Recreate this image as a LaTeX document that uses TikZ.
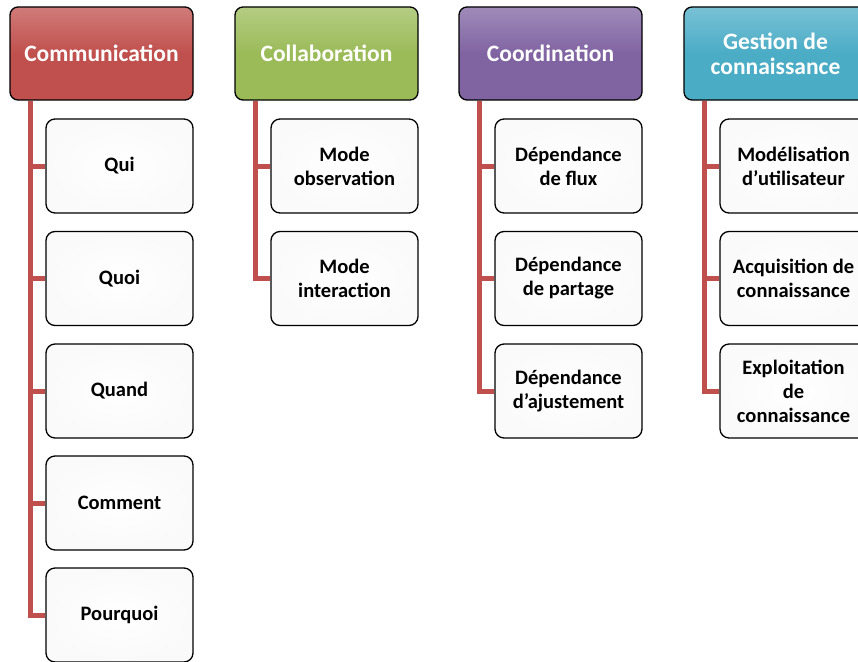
\documentclass[tikz,border=0pt]{standalone}
\usepackage{fontspec}
\setmainfont{Carlito}
\usetikzlibrary{positioning, calc, shadows}
\definecolor{comred}{RGB}{192,80,77}
\definecolor{colgreen}{RGB}{155,187,89}
\definecolor{coopurple}{RGB}{128,100,162}
\definecolor{gesteal}{RGB}{75,172,198}
\definecolor{linkred}{RGB}{192,80,77}

\begin{document}
\begin{tikzpicture}[
        x=1pt, y=-1pt,
        head/.style={rectangle, draw=black, line width=1.3pt, rounded corners=8pt,
            minimum width=183pt, minimum height=93pt, align=center, text=white,
            font=\bfseries\fontsize{23.5}{25}\selectfont, inner sep=1pt},
        item/.style={rectangle, draw=black, line width=1.3pt, rounded corners=9pt,
            fill=white, inner color=white, outer color=black!2,
            minimum width=147pt, minimum height=94pt, align=center,
            font=\bfseries\fontsize{20.5}{24}\selectfont, inner sep=1pt},
        link/.style={draw=linkred, line width=5pt}
    ]
        \useasboundingbox (0,0) rectangle (858,661);

        % headers
        \node[head, top color=comred!75, bottom color=comred, middle color=comred] (COMM) at (101.5,53.5) {Communication};
        \node[head, top color=colgreen!75, bottom color=colgreen, middle color=colgreen] (COLLAB) at (326.5,53.5) {Collaboration};
        \node[head, top color=coopurple!75, bottom color=coopurple, middle color=coopurple] (COORD) at (550.5,53.5) {Coordination};
        \node[head, top color=gesteal!75, bottom color=gesteal, middle color=gesteal] (GEST) at (775.5,53.5) {Gestion de\\connaissance};

        % communication
        \node[item] (QUI) at (119.5,166) {Qui};
        \node[item] (QUOI) at (119.5,278.5) {Quoi};
        \node[item] (QUAND) at (119.5,391) {Quand};
        \node[item] (COMMENT) at (119.5,503) {Comment};
        \node[item] (POURQUOI) at (119.5,615) {Pourquoi};

        % collaboration
        \node[item] (OBS) at (344.5,166) {Mode\\observation};
        \node[item] (INTER) at (344.5,278.5) {Mode\\interaction};

        % coordination
        \node[item] (FLUX) at (568.5,166) {Dépendance\\de flux};
        \node[item] (PART) at (568.5,278.5) {Dépendance\\de partage};
        \node[item] (AJUST) at (568.5,391) {Dépendance\\d’ajustement};

        % gestion de connaissance
        \node[item] (MODEL) at (793.5,166) {Modélisation\\d’utilisateur};
        \node[item] (ACQ) at (793.5,278.5) {Acquisition de\\connaissance};
        \node[item] (EXPL) at (793.5,391) {Exploitation\\de\\connaissance};

        \begin{scope}[on background layer/.try]
        \draw[link] ([xshift=21pt]COMM.south west) |- (QUI.west);
        \draw[link] ([xshift=21pt]COMM.south west) |- (QUOI.west);
        \draw[link] ([xshift=21pt]COMM.south west) |- (QUAND.west);
        \draw[link] ([xshift=21pt]COMM.south west) |- (COMMENT.west);
        \draw[link] ([xshift=21pt]COMM.south west) |- (POURQUOI.west);
        \draw[link] ([xshift=21pt]COLLAB.south west) |- (OBS.west);
        \draw[link] ([xshift=21pt]COLLAB.south west) |- (INTER.west);
        \draw[link] ([xshift=21pt]COORD.south west) |- (FLUX.west);
        \draw[link] ([xshift=21pt]COORD.south west) |- (PART.west);
        \draw[link] ([xshift=21pt]COORD.south west) |- (AJUST.west);
        \draw[link] ([xshift=21pt]GEST.south west) |- (MODEL.west);
        \draw[link] ([xshift=21pt]GEST.south west) |- (ACQ.west);
        \draw[link] ([xshift=21pt]GEST.south west) |- (EXPL.west);
        \end{scope}
    \end{tikzpicture}
\end{document}
